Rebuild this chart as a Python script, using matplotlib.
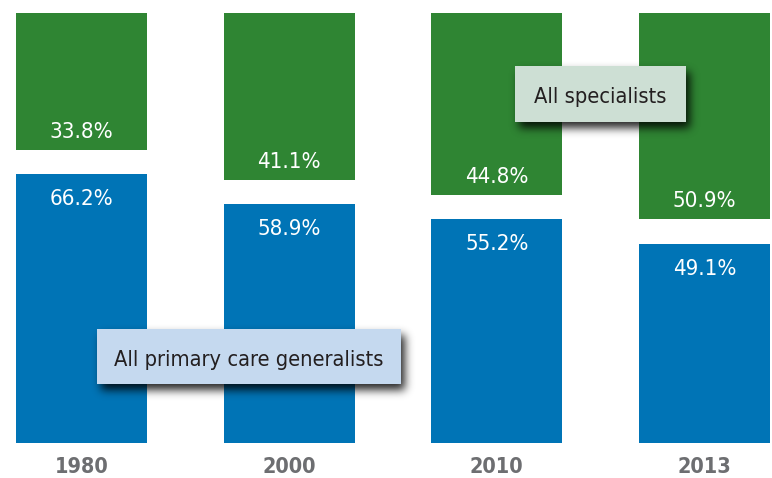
import matplotlib
matplotlib.use("Agg")
import numpy as np
import matplotlib.pyplot as plt
from matplotlib import font_manager
from matplotlib.patches import Rectangle

years = ["1980", "2000", "2010", "2013"]
generalists = [66.2, 58.9, 55.2, 49.1]
specialists = [33.8, 41.1, 44.8, 50.9]
series_names = ["All primary care generalists", "All specialists"]

# ---- choose a condensed font if one is installed ----
def find_font(bold):
    fl = font_manager.fontManager.ttflist
    prefs = ["LiberationSansNarrow", "DejaVuSansCondensed", "Condensed", "Narrow"]
    for p in prefs:
        for f in fl:
            fn = f.fname.replace("-", "").replace("_", "")
            if p in fn and (("Bold" in fn) == bold) and "Oblique" not in fn and "Italic" not in fn:
                return font_manager.FontProperties(fname=f.fname)
    return font_manager.FontProperties(family="DejaVu Sans", weight="bold" if bold else "normal")

FP = find_font(False)
FPB = find_font(True)

BLUE = "#0074b6"
GREEN = "#2f8533"
GAP = 5.94
W, H = 772, 478

fig = plt.figure(figsize=(7.72, 4.78), dpi=100)
ax = fig.add_axes([0, 0.0738, 1, 0.899])
x = list(range(len(years)))
width = 0.63

ax.bar(x, generalists, width=width, color=BLUE, zorder=1)
ax.bar(x, specialists, width=width, bottom=[g + GAP for g in generalists], color=GREEN, zorder=1)

def fp(base, size):
    p = base.copy()
    p.set_size(size)
    return p

for xi, g, s in zip(x, generalists, specialists):
    ax.annotate(f"{g:.1f}%", (xi, g), xytext=(0, -31), textcoords="offset pixels",
                ha="center", va="baseline", color="white", fontproperties=fp(FP, 16), zorder=2)
    ax.annotate(f"{s:.1f}%", (xi, g + GAP), xytext=(0, 12), textcoords="offset pixels",
                ha="center", va="baseline", color="white", fontproperties=fp(FP, 16), zorder=2)
    ax.annotate(years[xi], (xi, 0), xytext=(0, -30), textcoords="offset pixels",
                ha="center", va="baseline", color="#6d6e71", fontproperties=fp(FPB, 15.5), zorder=2)

ax.set_xlim(-0.392, 3.325)
ax.set_ylim(0, 100 + GAP)
ax.set_xticks([])
ax.set_yticks([])
for sp in ax.spines.values():
    sp.set_visible(False)

def blur1d(a, k, axis):
    return np.apply_along_axis(lambda m: np.convolve(m, k, mode="same"), axis, a)

def label_box(x0, y0, x1, y1, text, face, baseline):
    # pixel coords, top-left origin
    m = 22
    bw, bh = x1 - x0, y1 - y0
    arr = np.zeros((bh + 2 * m, bw + 2 * m))
    off = 6
    arr[m + off:m + off + bh, m + off - 2:m + off + bw - 2] = 1.0
    sig = 4.5
    t = np.arange(-13, 14)
    k = np.exp(-t ** 2 / (2 * sig ** 2))
    k /= k.sum()
    arr = blur1d(blur1d(arr, k, 0), k, 1)
    img = np.zeros(arr.shape + (4,))
    img[..., 3] = np.clip(arr * 0.85, 0, 1)
    fig.figimage(img, xo=x0 - m, yo=H - (y1 + m), origin="upper", zorder=3)
    r = Rectangle((x0 / W, 1 - y1 / H), bw / W, bh / H, transform=fig.transFigure,
                  facecolor=face, edgecolor="none", zorder=4)
    fig.add_artist(r)
    fig.text((x0 + x1) / 2 / W, 1 - baseline / H, text, ha="center", va="baseline",
             color="#231f20", fontproperties=fp(FP, 15.7), zorder=5)

label_box(97, 329, 401, 384, series_names[0], "#c5d9ef", 366.5)
label_box(515, 66, 686, 122, series_names[1], "#cddfd4", 103)

fig.savefig("out.png", dpi=100)
